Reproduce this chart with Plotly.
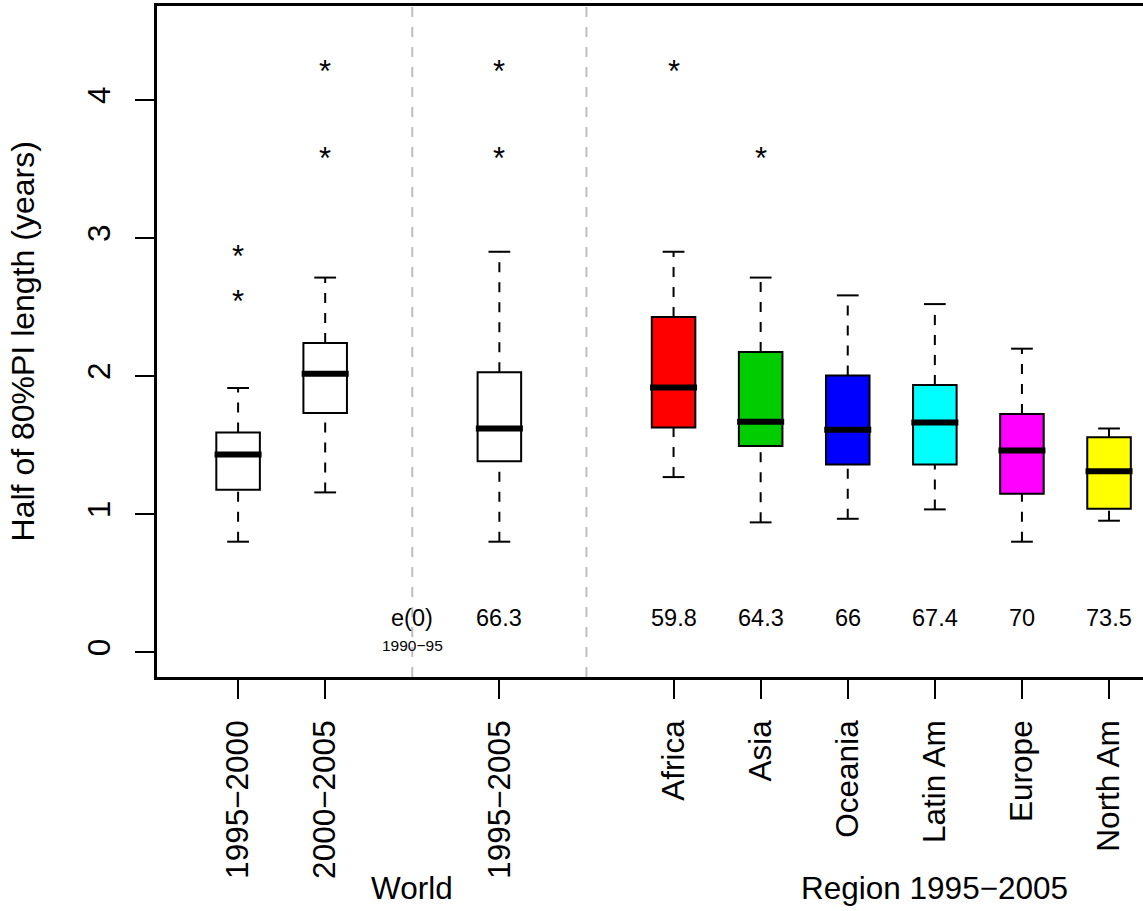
import plotly.graph_objects as go

# ---------------- data ----------------
positions = [1, 2, 4, 6, 7, 8, 9, 10, 11]
labels = ["1995\u22122000", "2000\u22122005", "1995\u22122005",
          "Africa", "Asia", "Oceania", "Latin Am", "Europe", "North Am"]
lower = [0.800, 1.157, 0.800, 1.268, 0.940, 0.966, 1.034, 0.800, 0.952]
q1 = [1.176, 1.733, 1.383, 1.627, 1.494, 1.359, 1.359, 1.147, 1.038]
median = [1.432, 2.017, 1.620, 1.916, 1.668, 1.610, 1.663, 1.461, 1.311]
q3 = [1.591, 2.239, 2.027, 2.427, 2.174, 2.003, 1.935, 1.725, 1.557]
upper = [1.913, 2.713, 2.900, 2.900, 2.713, 2.584, 2.521, 2.198, 1.620]
fill_colors = ["#FFFFFF", "#FFFFFF", "#FFFFFF", "#FF0000", "#00CD00",
               "#0000FF", "#00FFFF", "#FF00FF", "#FFFF00"]

outlier_x = [1, 1, 2, 2, 4, 4, 6, 7]
outlier_y = [2.89, 2.56, 4.23, 3.60, 4.23, 3.60, 4.23, 3.60]

e0_x = [4, 6, 7, 8, 9, 10, 11]
e0_text = ["66.3", "59.8", "64.3", "66", "67.4", "70", "73.5"]

separators = [3, 5]
group_x = [3, 9]
group_text = ["World", "Region 1995\u22122005"]

# ---------------- style ----------------
FONT = "Liberation Sans, Arial, Helvetica, sans-serif"
BOX_W = 0.5
CAP_HALF = 0.125
MED_HALF = 0.27

fig = go.Figure()

# boxes
for p, a, m, b, c in zip(positions, q1, median, q3, fill_colors):
    fig.add_trace(go.Box(
        x=[p], q1=[a], median=[m], q3=[b], lowerfence=[a], upperfence=[b],
        width=BOX_W, whiskerwidth=0, fillcolor=c,
        line=dict(color="black", width=2), boxpoints=False,
        showlegend=False, hoverinfo="skip"))

# dashed whiskers
wx, wy = [], []
for p, lo, a, b, hi in zip(positions, lower, q1, q3, upper):
    wx += [p, p, None, p, p, None]
    wy += [lo, a, None, b, hi, None]
fig.add_trace(go.Scatter(x=wx, y=wy, mode="lines",
                         line=dict(color="black", width=2, dash="10px,10px"),
                         showlegend=False, hoverinfo="skip"))

# caps
cx, cy = [], []
for p, lo, hi in zip(positions, lower, upper):
    cx += [p - CAP_HALF, p + CAP_HALF, None, p - CAP_HALF, p + CAP_HALF, None]
    cy += [lo, lo, None, hi, hi, None]
fig.add_trace(go.Scatter(x=cx, y=cy, mode="lines",
                         line=dict(color="black", width=2),
                         showlegend=False, hoverinfo="skip"))

# medians
mx, my = [], []
for p, m in zip(positions, median):
    mx += [p - MED_HALF, p + MED_HALF, None]
    my += [m, m, None]
fig.add_trace(go.Scatter(x=mx, y=my, mode="lines",
                         line=dict(color="black", width=6),
                         showlegend=False, hoverinfo="skip"))

# separators
for s in separators:
    fig.add_vline(x=s, line=dict(color="#BEBEBE", width=2, dash="10px,10px"), layer="below")

# outliers (asterisks)
for ox, oy in zip(outlier_x, outlier_y):
    fig.add_annotation(x=ox, y=oy, text="*", showarrow=False, yshift=-3,
                       font=dict(family=FONT, size=31, color="black"))

# e(0) labels
fig.add_annotation(x=3, y=0.25, text="e(0)", showarrow=False,
                   font=dict(family=FONT, size=23.5, color="black"))
fig.add_annotation(x=3, y=0.05, text="1990\u221295", showarrow=False,
                   font=dict(family=FONT, size=15.5, color="black"))
for ex, et in zip(e0_x, e0_text):
    fig.add_annotation(x=ex, y=0.25, text=et, showarrow=False,
                       font=dict(family=FONT, size=23.5, color="black"))

# group labels
for gx, gt in zip(group_x, group_text):
    fig.add_annotation(x=gx, xref="x", y=-0.3145, yref="paper", text=gt,
                       showarrow=False, yanchor="middle", xanchor="center",
                       font=dict(family=FONT, size=31.5, color="black"))

# y title
fig.add_annotation(x=-0.136, xref="paper", y=0.5, yref="paper",
                   text="Half of 80%PI length (years)", textangle=-90,
                   xanchor="center", yanchor="middle",
                   showarrow=False, font=dict(family=FONT, size=32, color="black"))

fig.update_layout(
    width=1143, height=911,
    margin=dict(l=157, r=0, t=6, b=234),
    paper_bgcolor="white", plot_bgcolor="white",
    boxmode="overlay",
    font=dict(family=FONT, size=31, color="black"),
    xaxis=dict(range=[0.069, 11.39], tickmode="array", tickvals=positions,
               ticktext=labels, tickangle=-90, ticks="outside", ticklen=19,
               tickwidth=2, tickcolor="black", showline=True, linewidth=2.5,
               linecolor="black", mirror=True, showgrid=False, zeroline=False,
               ticklabelstandoff=9,
               tickfont=dict(family=FONT, size=31.5, color="black")),
    yaxis=dict(range=[-0.18, 4.68], tickmode="array", tickvals=[0, 1, 2, 3, 4],
               ticktext=["0", "1", "2", "3", "4"], tickangle=-90,
               ticks="outside", ticklen=19, tickwidth=2, tickcolor="black",
               showline=True, linewidth=2.5, linecolor="black", showgrid=False,
               zeroline=False, ticklabelstandoff=13,
               tickfont=dict(family=FONT, size=31.5, color="black")),
)

fig.write_html("out.html")
